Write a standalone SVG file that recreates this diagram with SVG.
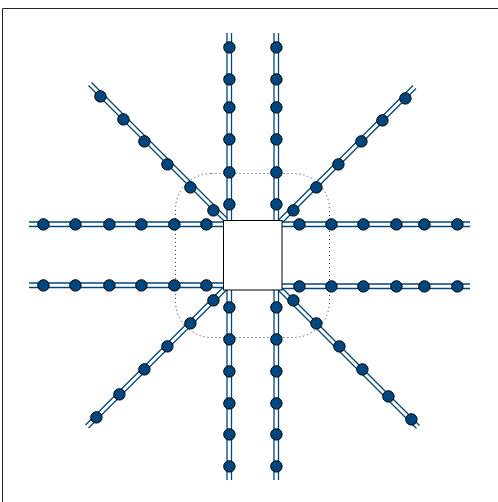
<svg xmlns="http://www.w3.org/2000/svg" width="498" height="502" viewBox="0 0 498 502">
<defs>
<style>
.w{fill:none;stroke:#00477f;stroke-width:1.300}
.n circle{fill:#00477f;stroke:#000;stroke-width:1}
</style>
</defs>
<rect width="498" height="502" fill="#fff"/>
<path id="frame" d="M2.500 502V8.500H498" fill="none" stroke="#222" stroke-width="1"/>
<rect id="zone" x="175.500" y="173.500" width="154" height="164" rx="36" fill="none" stroke="#333" stroke-width="1" stroke-dasharray="1 3"/>
<g id="connectors" class="w">
<path d="M227 33V220M231.500 33V220M274 33V220M278.500 33V220"/>
<path d="M227 290V480M231.500 290V480M274 290V480M278.500 290V480"/>
<path d="M29 222H223M29 226.500H223M29 283H223M29 287.500H223"/>
<path d="M282 222H470M282 226.500H470M282 284H470M282 288.500H470"/>
<path d="M88.500 85.500L224 221M91.500 82.500L227 218"/>
<path d="M416 88.500L281 224M413 85.500L278 220.500"/>
<path d="M85.500 425L224 286.500M88.500 428L227 289.500"/>
<path d="M416.500 428.500L279 291M419.500 425.500L282 288"/>
</g>
<g id="center"><rect x="223.500" y="220.500" width="58.500" height="69.500" fill="#fff" stroke="#000" stroke-width="1"/></g>
<g id="nodes" class="n" transform="translate(0.400 0.400)">
<circle id="t1a" cx="229" cy="47" r="5.700"/><circle id="t1b" cx="229" cy="79" r="5.700"/><circle id="t1c" cx="229" cy="107" r="5.700"/><circle id="t1d" cx="229" cy="139" r="5.700"/><circle id="t1e" cx="229" cy="172" r="5.700"/><circle id="t1f" cx="229" cy="204" r="5.700"/>
<circle id="t2a" cx="276" cy="47" r="5.700"/><circle id="t2b" cx="276" cy="79" r="5.700"/><circle id="t2c" cx="276" cy="107" r="5.700"/><circle id="t2d" cx="276" cy="139" r="5.700"/><circle id="t2e" cx="276" cy="172" r="5.700"/><circle id="t2f" cx="276" cy="204" r="5.700"/>
<circle id="b1a" cx="229" cy="307" r="5.700"/><circle id="b1b" cx="229" cy="339" r="5.700"/><circle id="b1c" cx="229" cy="371" r="5.700"/><circle id="b1d" cx="229" cy="403" r="5.700"/><circle id="b1e" cx="229" cy="434" r="5.700"/><circle id="b1f" cx="229" cy="466" r="5.700"/>
<circle id="b2a" cx="276" cy="307" r="5.700"/><circle id="b2b" cx="276" cy="339" r="5.700"/><circle id="b2c" cx="276" cy="371" r="5.700"/><circle id="b2d" cx="276" cy="403" r="5.700"/><circle id="b2e" cx="276" cy="434" r="5.700"/><circle id="b2f" cx="276" cy="466" r="5.700"/>
<circle id="l1a" cx="43" cy="224" r="5.700"/><circle id="l1b" cx="75" cy="224" r="5.700"/><circle id="l1c" cx="109" cy="224" r="5.700"/><circle id="l1d" cx="141" cy="224" r="5.700"/><circle id="l1e" cx="174" cy="224" r="5.700"/><circle id="l1f" cx="206" cy="224" r="5.700"/>
<circle id="l2a" cx="43" cy="285" r="5.700"/><circle id="l2b" cx="75" cy="285" r="5.700"/><circle id="l2c" cx="109" cy="285" r="5.700"/><circle id="l2d" cx="141" cy="285" r="5.700"/><circle id="l2e" cx="174" cy="285" r="5.700"/><circle id="l2f" cx="206" cy="285" r="5.700"/>
<circle id="r1a" cx="299" cy="224" r="5.700"/><circle id="r1b" cx="331" cy="224" r="5.700"/><circle id="r1c" cx="363" cy="224" r="5.700"/><circle id="r1d" cx="396" cy="224" r="5.700"/><circle id="r1e" cx="424" cy="224" r="5.700"/><circle id="r1f" cx="457" cy="224" r="5.700"/>
<circle id="r2a" cx="299" cy="286" r="5.700"/><circle id="r2b" cx="331" cy="286" r="5.700"/><circle id="r2c" cx="363" cy="286" r="5.700"/><circle id="r2d" cx="396" cy="286" r="5.700"/><circle id="r2e" cx="424" cy="286" r="5.700"/><circle id="r2f" cx="457" cy="286" r="5.700"/>
<circle id="tl1" cx="100" cy="96" r="5.700"/><circle id="tl2" cx="123" cy="119" r="5.700"/><circle id="tl3" cx="144" cy="141" r="5.700"/><circle id="tl4" cx="167" cy="164" r="5.700"/><circle id="tl5" cx="190" cy="187" r="5.700"/><circle id="tl6" cx="213" cy="210" r="5.700"/>
<circle id="tr1" cx="293" cy="210" r="5.700"/><circle id="tr2" cx="316" cy="187" r="5.700"/><circle id="tr3" cx="338" cy="164" r="5.700"/><circle id="tr4" cx="361" cy="141" r="5.700"/><circle id="tr5" cx="382" cy="120" r="5.700"/><circle id="tr6" cx="405" cy="98" r="5.700"/>
<circle id="bl1" cx="213" cy="300" r="5.700"/><circle id="bl2" cx="190" cy="323" r="5.700"/><circle id="bl3" cx="167" cy="346" r="5.700"/><circle id="bl4" cx="144" cy="369" r="5.700"/><circle id="bl5" cx="119" cy="394" r="5.700"/><circle id="bl6" cx="96" cy="417" r="5.700"/>
<circle id="br1" cx="293" cy="300" r="5.700"/><circle id="br2" cx="316" cy="323" r="5.700"/><circle id="br3" cx="339" cy="346" r="5.700"/><circle id="br4" cx="362" cy="369" r="5.700"/><circle id="br5" cx="388" cy="396" r="5.700"/><circle id="br6" cx="411" cy="419" r="5.700"/>
</g>
</svg>
